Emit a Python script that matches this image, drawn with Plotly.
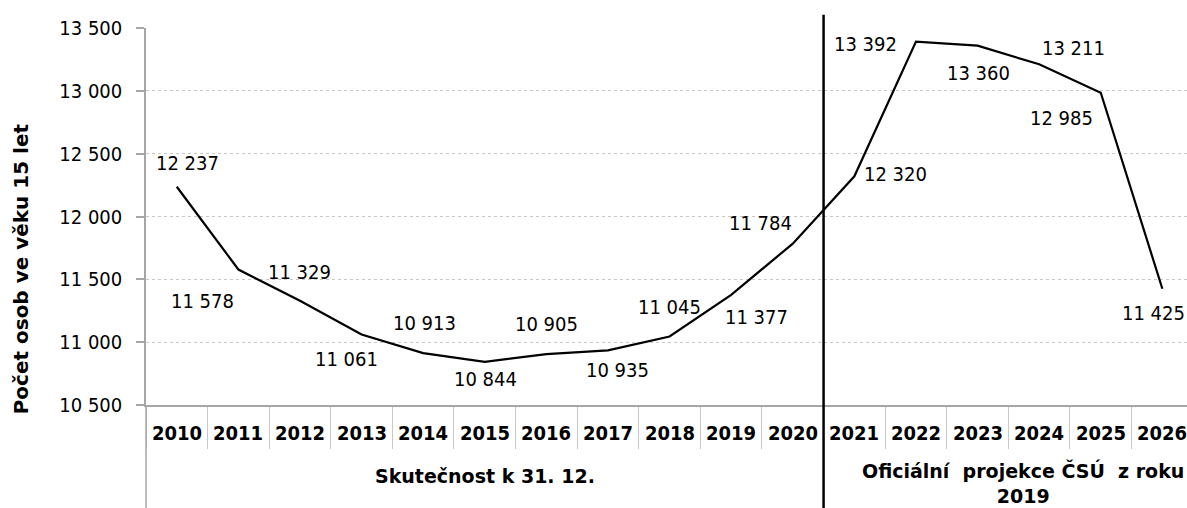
import plotly.graph_objects as go

years = [str(y) for y in range(2010, 2027)]
values = [12237, 11578, 11329, 11061, 10913, 10844, 10905, 10935, 11045,
          11377, 11784, 12320, 13392, 13360, 13211, 12985, 11425]
group_labels = ["Skutečnost k 31. 12.", "Oficiální\u00a0 projekce ČSÚ\u00a0 z roku<br>2019"]
y_title = "Počet osob ve věku 15 let"
y_ticks = [10500, 11000, 11500, 12000, 12500, 13000, 13500]

# label offsets (style only, px)
label_dx = [11, -36, 0, -15, 1, 1, 0, 10, 0, 25, -32, 41, -50, 1, 34, -39, -9]
label_dy = [-24, 31, -29, 24, -30, 17, -30, 20, -30, 22, -21, -2, 2, 27, -16, 25, 24]

FONT = "DejaVu Sans Condensed, Liberation Sans, Arial, sans-serif"
WIDE = "DejaVu Sans, Verdana, sans-serif"
GRAY = "#a6a6a6"

def fmt(v):
    return f"{v:,}".replace(",", " ")

fig = go.Figure()
fig.add_trace(go.Scatter(x=years, y=values, mode="lines",
                         line=dict(color="black", width=2.2),
                         hoverinfo="skip", showlegend=False))

ann = []
for i, (v, dx, dy) in enumerate(zip(values, label_dx, label_dy)):
    ann.append(dict(x=i, y=v, xref="x", yref="y", text=fmt(v), showarrow=False,
                    xshift=dx, yshift=-dy, font=dict(size=20, color="black", family=FONT)))
for i, yr in enumerate(years):
    ann.append(dict(x=i, y=-0.0743, xref="x", yref="paper", text=f"<b>{yr}</b>",
                    showarrow=False, yanchor="middle",
                    font=dict(size=20, color="black", family=FONT)))
ann.append(dict(x=5, y=-0.188, xref="x", yref="paper", text=f"<b>{group_labels[0]}</b>",
                showarrow=False, yanchor="middle", font=dict(size=19, color="black", family=WIDE)))
ann.append(dict(x=14, y=-0.208, xref="x", yref="paper", xshift=-16,
                text=f"<b>{group_labels[1]}</b>", showarrow=False, yanchor="middle",
                font=dict(size=19, color="black", family=WIDE)))
ann.append(dict(x=-0.12, y=0.36, xref="paper", yref="paper", text=f"<b>{y_title}</b>",
                textangle=-90, showarrow=False, xanchor="center", yanchor="middle",
                font=dict(size=20, color="black", family=WIDE)))

shapes = [
    dict(type="line", xref="paper", yref="paper", x0=0, x1=0, y0=0, y1=-0.2733,
         line=dict(color=GRAY, width=1.5)),
    dict(type="line", xref="x", yref="paper", x0=10.5, x1=10.5, y0=1.035, y1=-0.2733,
         line=dict(color="black", width=2.5)),
]

fig.update_layout(
    width=1187, height=508,
    margin=dict(l=146, r=0, t=28, b=103),
    paper_bgcolor="white", plot_bgcolor="white",
    separators=", ",
    font=dict(family=FONT, size=20, color="black"),
    annotations=ann, shapes=shapes,
    xaxis=dict(type="category", range=[-0.5, 16.4], showticklabels=False,
               ticks="outside", tickson="boundaries", ticklen=42, tickcolor="#c8c8c8",
               tickwidth=1, showline=True, linecolor=GRAY, linewidth=1.5,
               showgrid=False, zeroline=False),
    yaxis=dict(range=[10500, 13500], tickvals=y_ticks, tickformat=",d",
               ticks="outside", ticklen=8, tickcolor=GRAY, tickwidth=1.5,
               showline=True, linecolor=GRAY, linewidth=1.5,
               showgrid=True, gridcolor="#c8c8c8", griddash="dot", gridwidth=1,
               zeroline=False, tickfont=dict(size=20, color="black", family=FONT),
               ticklabelstandoff=10),
)
fig.write_html("out.html", config={"displayModeBar": False},
               post_script="document.body.style.margin='0';document.body.style.overflow='hidden';")
